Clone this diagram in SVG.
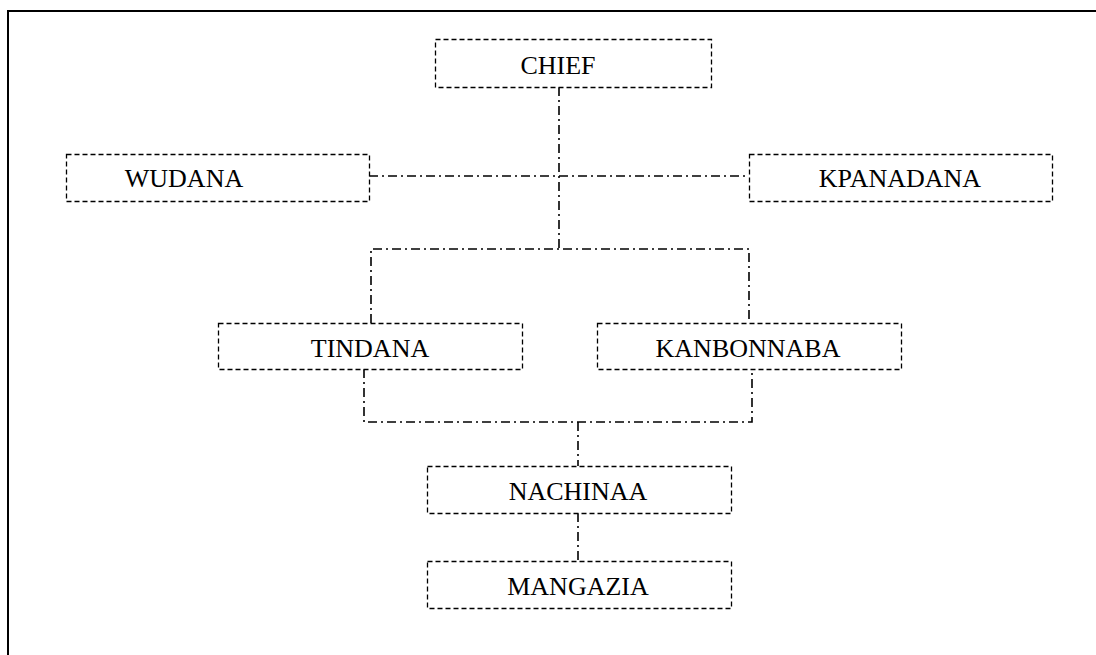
<svg xmlns="http://www.w3.org/2000/svg" width="1096" height="655" viewBox="0 0 1096 655">
<style>
.box{fill:#fff;stroke:#000;stroke-width:1.3;stroke-dasharray:5 3}
.lbl{font-family:"Liberation Serif","Times New Roman",serif;font-size:26px;fill:#000;text-anchor:middle}
.con{fill:none;stroke:#000;stroke-width:1.6;stroke-dasharray:9 4 2 4}
</style>
<rect width="1096" height="655" fill="#fff"/>
<path d="M8 655 V11 H1096" fill="none" stroke="#000" stroke-width="2"/>
<g id="connectors">
<path class="con" d="M559 87 V249"/>
<path class="con" d="M369 176 H749"/>
<path class="con" d="M371 323 V249 H749 V323"/>
<path class="con" d="M364 369 V422 H752 V369"/>
<path class="con" d="M578 422 V466"/>
<path class="con" d="M578 513 V561"/>
</g>
<g id="chief"><rect class="box" x="435.5" y="39.5" width="276" height="48"/><text class="lbl" x="558" y="74">CHIEF</text></g>
<g id="wudana"><rect class="box" x="66.5" y="154.5" width="303" height="47"/><text class="lbl" x="184" y="187">WUDANA</text></g>
<g id="kpanadana"><rect class="box" x="749.5" y="154.5" width="303" height="47"/><text class="lbl" x="900" y="187">KPANADANA</text></g>
<g id="tindana"><rect class="box" x="218.5" y="323.5" width="304" height="46"/><text class="lbl" x="370" y="357">TINDANA</text></g>
<g id="kanbonnaba"><rect class="box" x="597.5" y="323.5" width="304" height="46"/><text class="lbl" x="748" y="357">KANBONNABA</text></g>
<g id="nachinaa"><rect class="box" x="427.5" y="466.5" width="304" height="47"/><text class="lbl" x="578" y="500">NACHINAA</text></g>
<g id="mangazia"><rect class="box" x="427.5" y="561.5" width="304" height="47"/><text class="lbl" x="578" y="595">MANGAZIA</text></g>
</svg>
